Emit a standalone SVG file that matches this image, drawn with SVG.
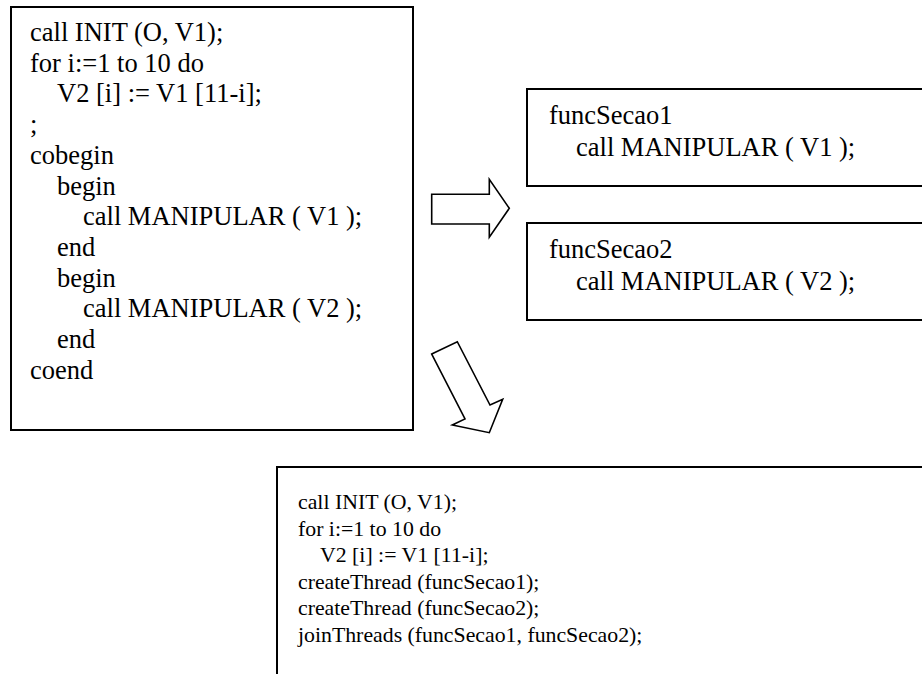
<svg xmlns="http://www.w3.org/2000/svg" width="922" height="674" viewBox="0 0 922 674">
  <style>
    .box { fill: #fff; stroke: #000; stroke-width: 2; }
    .arrow { fill: #fff; stroke: #000; stroke-width: 1.6; stroke-linejoin: miter; }
  </style>
  <rect width="922" height="674" fill="#fff"/>

  <!-- original cobegin/coend program -->
  <g id="program-cobegin">
    <rect class="box" x="11" y="7" width="402" height="423"/>
    <text font-family="Liberation Serif" font-size="26.5" fill="#000">
      <tspan x="30" y="41">call INIT (O, V1);</tspan>
      <tspan x="30" y="71.7">for i:=1 to 10 do</tspan>
      <tspan x="57" y="102.4">V2 [i] := V1 [11-i];</tspan>
      <tspan x="30" y="133.1">;</tspan>
      <tspan x="30" y="163.8">cobegin</tspan>
      <tspan x="57" y="194.5">begin</tspan>
      <tspan x="83" y="225.2">call MANIPULAR ( V1 );</tspan>
      <tspan x="57" y="255.9">end</tspan>
      <tspan x="57" y="286.6">begin</tspan>
      <tspan x="83" y="317.3">call MANIPULAR ( V2 );</tspan>
      <tspan x="57" y="348">end</tspan>
      <tspan x="30" y="378.7">coend</tspan>
    </text>
  </g>

  <!-- thread function 1 -->
  <g id="func-secao1">
    <rect class="box" x="527" y="89" width="410" height="97"/>
    <text font-family="Liberation Serif" font-size="26.5" fill="#000">
      <tspan x="549" y="124">funcSecao1</tspan>
      <tspan x="576" y="156">call MANIPULAR ( V1 );</tspan>
    </text>
  </g>

  <!-- thread function 2 -->
  <g id="func-secao2">
    <rect class="box" x="527" y="223" width="410" height="97"/>
    <text font-family="Liberation Serif" font-size="26.5" fill="#000">
      <tspan x="549" y="258">funcSecao2</tspan>
      <tspan x="576" y="290">call MANIPULAR ( V2 );</tspan>
    </text>
  </g>

  <!-- thread-based program -->
  <g id="program-threads">
    <path class="box" d="M277,680 V467 H940"/>
    <rect x="278" y="468" width="660" height="210" fill="#fff"/>
    <text font-family="Liberation Serif" font-size="21.8" fill="#000">
      <tspan x="298" y="509">call INIT (O, V1);</tspan>
      <tspan x="298" y="535.5">for i:=1 to 10 do</tspan>
      <tspan x="320" y="562">V2 [i] := V1 [11-i];</tspan>
      <tspan x="298" y="588.5">createThread (funcSecao1);</tspan>
      <tspan x="298" y="615">createThread (funcSecao2);</tspan>
      <tspan x="298" y="641.5">joinThreads (funcSecao1, funcSecao2);</tspan>
    </text>
  </g>

  <!-- block arrows -->
  <g id="connectors">
    <polygon class="arrow" points="431.7,194.3 489.3,194.3 489.3,179.3 509.3,208.3 489.3,237.3 489.3,224 431.7,224"/>
    <polygon class="arrow" points="431.7,354 457.3,341.7 490,405 502.7,399.3 489.3,432.7 452.3,425 465,419"/>
  </g>
</svg>
